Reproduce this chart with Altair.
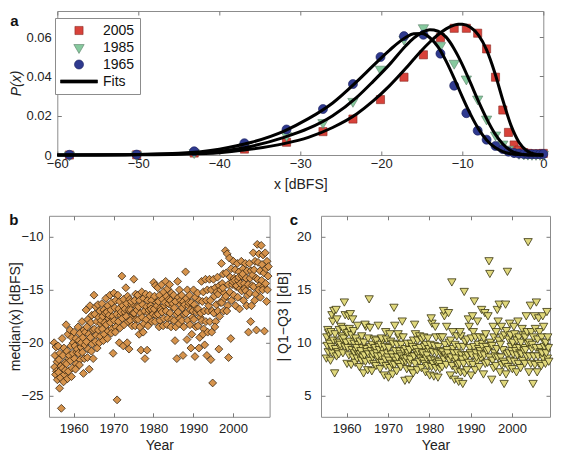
import altair as alt
import pandas as pd

FONT = "Liberation Sans"

# ---------------- Panel a : distributions of x for three years ----------------
a_bins = [-58.5, -50.2, -43.1, -36.9, -31.7, -27.2, -23.5, -20.1, -17.2, -14.8, -12.7,
          -11.0, -9.5, -8.1, -7.0, -5.9, -5.0, -4.3, -3.6, -3.0, -2.4, -1.9, -1.4, -0.9, -0.4, 0.0]
p_1965 = [0.0001, 0.0002, 0.0019, 0.0060, 0.0130, 0.0234, 0.0361, 0.0499, 0.0605, 0.0612, 0.0516,
          0.0353, 0.0213, 0.0124, 0.0078, 0.0046, 0.0030, 0.0017, 0.0010, 0.0007, 0.0005, 0.0004,
          0.0004, 0.0004, 0.0004, 0.0005]
p_1985 = [0.0000, 0.0001, 0.0012, 0.0045, 0.0099, 0.0165, 0.0273, 0.0437, 0.0590, 0.0648, 0.0557,
          0.0467, 0.0387, 0.0285, 0.0183, 0.0102, 0.0056, 0.0030, 0.0015, 0.0008, 0.0005, 0.0004,
          0.0003, 0.0003, 0.0003, 0.0004]
p_2005 = [0.0000, 0.0001, 0.0010, 0.0030, 0.0065, 0.0119, 0.0183, 0.0282, 0.0396, 0.0510, 0.0598,
          0.0645, 0.0645, 0.0620, 0.0540, 0.0396, 0.0229, 0.0115, 0.0051, 0.0025, 0.0012, 0.0008,
          0.0006, 0.0005, 0.0006, 0.0008]

fit_x = [-60, -55, -50, -45, -40, -36, -32, -29, -26, -23, -21, -19, -17, -16, -15, -14, -13,
         -12, -11, -10.5, -10, -9, -8, -7, -6, -5, -4, -3, -2, -1, 0]
fit_1965 = [0.0000, 0.0001, 0.0003, 0.0009, 0.0030, 0.0065, 0.0122, 0.0185, 0.0265, 0.0375, 0.0455,
            0.0533, 0.0598, 0.0617, 0.0618, 0.0597, 0.0550, 0.0478, 0.0390, 0.0343, 0.0296, 0.0208,
            0.0133, 0.0076, 0.0039, 0.0017, 0.0006, 0.0002, 0.0000, 0.0000, 0.0000]
fit_1985 = [0.0000, 0.0000, 0.0002, 0.0006, 0.0019, 0.0045, 0.0090, 0.0135, 0.0200, 0.0295, 0.0375,
            0.0460, 0.0555, 0.0595, 0.0623, 0.0637, 0.0630, 0.0600, 0.0540, 0.0502, 0.0460, 0.0368,
            0.0273, 0.0185, 0.0110, 0.0056, 0.0022, 0.0007, 0.0001, 0.0000, 0.0000]
fit_2005 = [0.0000, 0.0000, 0.0001, 0.0004, 0.0012, 0.0030, 0.0058, 0.0090, 0.0140, 0.0210, 0.0275,
            0.0352, 0.0440, 0.0487, 0.0533, 0.0575, 0.0612, 0.0642, 0.0661, 0.0666, 0.0665, 0.0650,
            0.0610, 0.0535, 0.0420, 0.0280, 0.0152, 0.0065, 0.0020, 0.0004, 0.0000]

legend_names = ["2005", "1985", "1965", "Fits"]
# custom symbol paths (unit box -1..1 is sqrt(size) pixels wide)
legend_shapes = [
    "M-0.22,-0.22H0.22V0.22H-0.22Z",
    "M-0.28,-0.16L0.28,-0.16L0,0.32Z",
    "M0.245,0A0.245,0.245,0,1,1,-0.245,0A0.245,0.245,0,1,1,0.245,0Z",
    "M-1,-0.085H1V0.085H-1Z",
]
legend_fill = ["#d8423a", "#86c99e", "#2f3a8f", "black"]
legend_stroke = ["#8a2a24", "#5d7d68", "#1a1f5c", "black"]

panel_letters = ["a", "b", "c"]

# ---------------- Panels b and c : per-year values ----------------
years = list(range(1955, 2009))
year_frac = [0.1, 0.55, 0.3, 0.8, 0.2, 0.65, 0.45, 0.9]

median_x = [
    [-20.0, -20.4, -21.2, -21.8, -22.3, -22.7, -23.0, -23.5],
    [-20.3, -21.0, -21.6, -22.2, -22.8, -23.3, -24.3, -26.2],
    [-19.6, -20.5, -21.2, -21.9, -22.4, -23.0, -23.7, -22.6],
    [-18.3, -19.2, -20.8, -21.5, -22.0, -22.7, -23.4, -21.2],
    [-18.8, -19.5, -20.3, -21.0, -21.7, -22.4, -23.2, -20.0],
    [-19.0, -19.6, -20.3, -20.9, -21.5, -22.0, -22.5, -20.6],
    [-18.5, -19.1, -19.8, -20.4, -21.0, -21.6, -22.1, -20.0],
    [-18.0, -18.8, -19.5, -20.2, -20.9, -21.5, -22.9, -19.0],
    [-16.9, -17.8, -18.5, -19.2, -19.9, -20.6, -21.4, -22.5],
    [-16.5, -17.4, -18.1, -18.8, -19.5, -20.1, -20.8, -21.5],
    [-15.5, -16.6, -17.3, -18.0, -18.7, -19.3, -19.9, -20.5],
    [-16.4, -17.0, -17.6, -18.2, -18.8, -19.4, -20.0, -17.9],
    [-16.3, -16.9, -17.5, -18.1, -18.7, -19.2, -19.8, -17.2],
    [-15.8, -16.5, -17.1, -17.7, -18.3, -18.9, -19.6, -17.4],
    [-15.5, -16.2, -16.9, -17.5, -18.1, -18.7, -19.1, -21.0],
    [-15.3, -16.0, -16.7, -17.3, -17.9, -18.5, -19.0, -25.4],
    [-15.5, -16.1, -16.8, -17.4, -18.0, -18.6, -20.0, -17.1],
    [-13.7, -15.9, -16.5, -17.1, -17.7, -18.3, -20.3, -16.8],
    [-14.8, -15.6, -16.3, -16.9, -17.5, -18.0, -20.0, -20.6],
    [-15.9, -16.4, -16.9, -17.4, -17.9, -18.4, -16.1, -17.2],
    [-14.0, -15.4, -16.0, -16.6, -17.2, -17.8, -18.4, -16.9],
    [-15.5, -16.0, -16.6, -17.2, -17.8, -18.5, -19.2, -20.7],
    [-15.2, -15.8, -16.4, -17.0, -17.6, -18.2, -19.0, -21.5],
    [-15.4, -16.0, -16.6, -17.2, -17.8, -18.4, -20.7, -16.9],
    [-15.5, -16.0, -16.5, -17.0, -17.5, -18.0, -16.8, -17.3],
    [-14.3, -14.6, -15.6, -16.2, -16.8, -17.4, -18.0, -16.5],
    [-14.8, -15.5, -16.1, -16.7, -17.3, -17.9, -18.5, -16.9],
    [-14.5, -15.2, -15.9, -16.5, -17.1, -17.7, -18.4, -16.2],
    [-14.2, -14.9, -15.6, -16.3, -17.0, -17.7, -18.3, -15.9],
    [-14.5, -15.3, -16.0, -16.6, -17.2, -17.8, -18.5, -16.3],
    [-15.5, -16.1, -16.7, -17.3, -17.9, -18.5, -19.8, -21.5],
    [-14.2, -15.0, -15.7, -16.4, -17.1, -17.7, -18.2, -16.0],
    [-15.5, -16.1, -16.7, -17.3, -17.9, -18.5, -21.2, -16.4],
    [-13.3, -15.0, -15.8, -16.5, -17.2, -17.9, -19.7, -16.2],
    [-15.5, -16.2, -16.9, -17.6, -18.3, -19.2, -20.5, -17.0],
    [-15.0, -15.7, -16.4, -17.1, -17.8, -18.5, -21.3, -16.8],
    [-15.3, -16.0, -16.8, -17.6, -18.4, -19.5, -20.5, -17.2],
    [-14.2, -15.2, -16.1, -17.0, -17.9, -18.7, -19.2, -20.2],
    [-14.0, -15.0, -16.0, -17.0, -18.0, -19.0, -21.2, -16.5],
    [-14.0, -15.0, -16.0, -17.0, -18.0, -19.0, -21.6, -23.8],
    [-14.0, -14.8, -15.6, -16.4, -17.2, -18.0, -18.5, -15.2],
    [-13.8, -14.6, -15.4, -16.2, -17.0, -17.5, -20.6, -15.0],
    [-12.5, -13.5, -14.4, -15.3, -16.2, -17.0, -14.8, -15.8],
    [-11.3, -11.6, -13.4, -14.5, -15.6, -16.5, -17.0, -21.4],
    [-12.0, -13.0, -13.8, -14.5, -15.2, -16.0, -19.6, -14.2],
    [-12.3, -13.1, -13.9, -14.7, -15.5, -16.5, -14.1, -14.6],
    [-12.5, -13.3, -14.1, -14.9, -15.7, -16.8, -13.8, -14.4],
    [-12.3, -13.0, -13.7, -14.4, -15.1, -16.0, -13.5, -14.9],
    [-12.5, -13.2, -13.9, -14.5, -15.1, -15.5, -16.5, -19.0],
    [-12.5, -13.2, -13.9, -14.6, -15.3, -16.5, -18.0, -13.6],
    [-11.5, -12.3, -13.1, -13.9, -14.7, -15.4, -16.0, -18.8],
    [-10.7, -11.6, -12.4, -13.2, -14.0, -14.6, -15.0, -15.7],
    [-10.8, -11.7, -12.6, -13.4, -14.1, -14.7, -15.0, -18.9],
    [-11.5, -12.3, -13.0, -13.7, -14.4, -15.0, -16.1, -12.8],
]

q_range = [
    [8.5, 9.1, 9.7, 10.1, 10.5, 10.9, 11.2, 9.9],
    [8.3, 9.0, 9.6, 10.2, 11.0, 12.0, 12.6, 13.0],
    [7.1, 8.7, 9.4, 10.0, 10.8, 12.2, 13.1, 9.1],
    [8.9, 9.5, 10.0, 10.6, 11.2, 11.5, 9.8, 10.3],
    [9.0, 9.6, 10.4, 11.0, 11.3, 12.6, 13.8, 10.0],
    [8.0, 8.8, 9.5, 10.1, 10.9, 11.3, 12.5, 12.7],
    [7.9, 8.6, 9.3, 9.9, 10.7, 11.1, 12.2, 9.0],
    [8.1, 8.5, 9.2, 9.8, 10.4, 11.6, 9.5, 8.9],
    [7.7, 8.3, 8.9, 9.5, 10.1, 10.6, 9.2, 8.6],
    [7.1, 8.2, 8.8, 9.4, 10.0, 11.5, 11.7, 9.1],
    [7.4, 8.3, 8.9, 9.6, 10.4, 11.4, 14.1, 9.2],
    [7.3, 8.0, 8.6, 9.2, 9.8, 10.3, 8.9, 9.5],
    [7.8, 8.4, 9.0, 9.6, 10.2, 11.6, 8.7, 9.3],
    [7.5, 8.1, 8.7, 9.3, 9.8, 10.2, 10.4, 8.9],
    [6.9, 7.8, 8.4, 9.0, 9.6, 10.3, 11.0, 8.6],
    [6.7, 7.6, 8.3, 8.9, 9.5, 10.1, 10.8, 8.0],
    [7.0, 7.9, 8.6, 9.2, 9.9, 11.6, 13.3, 8.3],
    [7.3, 8.0, 8.6, 9.2, 9.8, 10.5, 10.8, 8.9],
    [7.7, 8.2, 8.7, 9.2, 9.8, 10.5, 12.0, 8.5],
    [6.4, 7.5, 8.2, 8.8, 9.4, 9.9, 8.5, 9.0],
    [6.5, 7.4, 8.1, 8.7, 9.3, 9.9, 8.4, 9.6],
    [7.1, 8.0, 8.7, 9.4, 10.2, 10.8, 11.7, 9.0],
    [7.4, 8.2, 8.8, 9.5, 10.2, 10.6, 9.1, 8.5],
    [7.6, 8.3, 8.9, 9.6, 10.3, 10.5, 9.0, 8.0],
    [7.2, 7.8, 8.5, 9.1, 9.8, 10.4, 8.8, 9.4],
    [6.9, 7.7, 8.4, 9.1, 9.8, 11.8, 12.3, 8.0],
    [6.8, 7.6, 8.3, 9.0, 9.7, 10.5, 11.5, 8.1],
    [6.7, 7.5, 8.2, 8.9, 9.6, 10.5, 8.0, 9.2],
    [7.7, 8.4, 9.1, 9.8, 10.5, 12.5, 13.0, 8.8],
    [7.9, 8.6, 9.3, 10.0, 11.5, 12.8, 9.0, 8.3],
    [6.9, 7.8, 8.6, 9.4, 10.2, 11.0, 15.7, 9.0],
    [6.5, 7.4, 8.2, 9.0, 9.8, 10.6, 8.5, 7.9],
    [6.3, 7.2, 8.0, 8.8, 9.6, 10.6, 11.0, 8.4],
    [6.1, 7.1, 8.0, 8.8, 9.6, 10.1, 14.8, 8.5],
    [7.4, 8.1, 8.8, 9.5, 10.3, 11.5, 12.2, 9.0],
    [6.9, 7.9, 8.8, 9.6, 10.4, 11.0, 12.5, 13.9],
    [7.4, 8.2, 9.0, 9.8, 10.5, 12.0, 8.6, 9.4],
    [7.7, 8.5, 9.2, 9.9, 10.5, 13.1, 8.9, 9.6],
    [7.0, 8.0, 8.8, 9.6, 10.4, 10.8, 12.8, 9.2],
    [8.1, 8.6, 9.3, 10.0, 12.5, 16.5, 17.7, 9.7],
    [6.5, 7.6, 8.3, 9.0, 9.7, 10.5, 11.5, 8.7],
    [7.8, 8.6, 9.4, 10.2, 11.0, 12.0, 13.1, 13.6],
    [7.2, 7.9, 8.6, 9.3, 9.8, 10.5, 11.5, 8.2],
    [6.1, 7.0, 8.0, 8.9, 10.7, 11.1, 13.6, 16.7],
    [7.7, 8.3, 9.0, 9.6, 10.3, 10.7, 11.8, 9.2],
    [7.5, 8.2, 8.9, 9.5, 10.0, 10.8, 11.5, 9.2],
    [7.2, 8.0, 8.8, 9.5, 10.2, 10.5, 12.0, 9.0],
    [7.6, 8.3, 8.9, 9.5, 10.0, 10.7, 11.3, 9.2],
    [8.0, 8.7, 9.3, 9.9, 10.5, 11.0, 12.5, 19.5],
    [7.2, 8.0, 8.7, 9.4, 10.0, 11.0, 13.5, 9.8],
    [6.1, 7.9, 8.7, 9.5, 10.5, 11.3, 12.5, 13.8],
    [7.2, 8.0, 8.7, 9.5, 10.3, 11.0, 12.3, 9.1],
    [7.8, 8.5, 9.0, 9.6, 10.5, 11.5, 12.5, 10.0],
    [8.0, 8.5, 9.0, 9.5, 10.0, 10.5, 12.9, 8.2],
]

# ---------------- tables ----------------
pts_a = pd.DataFrame({
    "x": a_bins * 3,
    "p": p_2005 + p_1985 + p_1965,
    "series": ["2005"] * len(a_bins) + ["1985"] * len(a_bins) + ["1965"] * len(a_bins),
})
fits_a = pd.DataFrame({
    "x": fit_x * 3,
    "p": fit_2005 + fit_1985 + fit_1965,
    "curve": ["2005"] * len(fit_x) + ["1985"] * len(fit_x) + ["1965"] * len(fit_x),
})

rows_b, rows_c = [], []
for yr, vals_b, vals_c in zip(years, median_x, q_range):
    for f, vb, vc in zip(year_frac, vals_b, vals_c):
        rows_b.append({"year": yr + f, "v": vb})
        rows_c.append({"year": yr + f, "v": vc})
df_b = pd.DataFrame(rows_b)
df_c = pd.DataFrame(rows_c)

TICK = "#7a7a7a"
SYM = 1370  # symbol size so that the legend line is ~37 px long


def letter_layer(t, dx, baseline_y):
    """Bold panel letter placed relative to the panel's plot area."""
    return alt.Chart(pd.DataFrame({"t": [t]})).mark_text(
        align="left", baseline="alphabetic", fontSize=15, fontWeight="bold", color="#111", font=FONT
    ).encode(text="t:N", x=alt.value(dx), y=alt.value(baseline_y))


# ---------------- panel a ----------------
xa = alt.Scale(domain=[-60, 0], nice=False, zero=False)
ya = alt.Scale(domain=[0, 0.0733], nice=False, zero=False)
xa_ticks = [-60, -50, -40, -30, -20, -10, 0]
ya_ticks = [0, 0.02, 0.04, 0.06]

leg = alt.Legend(title=None, orient="none", legendX=6, legendY=7, fillColor="white",
                 strokeColor="#8c8c8c", padding=5, labelFontSize=14, labelOffset=5,
                 clipHeight=15, rowPadding=2, labelColor="#111", symbolSize=SYM,
                 symbolStrokeWidth=0.6)

points_a = alt.Chart(pts_a).mark_point(filled=True, opacity=1, size=SYM, strokeWidth=0.6).encode(
    x=alt.X("x:Q", scale=xa, axis=None),
    y=alt.Y("p:Q", scale=ya, axis=None),
    shape=alt.Shape("series:N", scale=alt.Scale(domain=legend_names, range=legend_shapes), legend=leg),
    fill=alt.Fill("series:N", scale=alt.Scale(domain=legend_names, range=legend_fill), legend=leg),
    stroke=alt.Stroke("series:N", scale=alt.Scale(domain=legend_names, range=legend_stroke), legend=leg),
)

lines_a = alt.Chart(fits_a).mark_line(color="black", strokeWidth=3, interpolate="monotone").encode(
    x=alt.X("x:Q", scale=xa, axis=alt.Axis(values=xa_ticks, format="d", title="x  [dBFS]",
                                           labelPadding=2.5, titlePadding=6.5)),
    y=alt.Y("p:Q", scale=ya, axis=alt.Axis(values=ya_ticks, format=".2~f", title="P(x)",
                                           titleFontStyle="italic", labelPadding=6, titlePadding=2)),
    detail="curve:N",
)

mirror_a = alt.Chart(pts_a.head(1)).mark_point(opacity=0).encode(
    x=alt.X("x:Q", scale=xa, axis=alt.Axis(orient="top", values=xa_ticks, labels=False, title=None)),
    y=alt.Y("p:Q", scale=ya, axis=alt.Axis(orient="right", values=ya_ticks, labels=False, title=None)),
)

panel_a = alt.layer(points_a, lines_a, mirror_a, letter_layer(panel_letters[0], -47, 15)).resolve_axis(
    x="independent", y="independent"
).properties(width=486, height=144)

# ---------------- panel b ----------------
xyears = alt.Scale(domain=[1953.8, 2009.2], nice=False, zero=False)
year_ticks = [1960, 1970, 1980, 1990, 2000]
yb = alt.Scale(domain=[-27, -8], nice=False, zero=False)
yb_ticks = [-25, -20, -15, -10]

b_main = alt.Chart(df_b).mark_point(shape="diamond", filled=True, fill="#d6934c", stroke="#3a2712",
                                    strokeWidth=0.8, size=62, opacity=1).encode(
    x=alt.X("year:Q", scale=xyears, axis=alt.Axis(values=year_ticks, format="d", title="Year",
                                                  labelPadding=6, titlePadding=2.5)),
    y=alt.Y("v:Q", scale=yb, axis=alt.Axis(values=yb_ticks, format="d", title="median(x)  [dBFS]",
                                           labelPadding=6, titlePadding=-2)),
)
b_mirror = alt.Chart(df_b.head(1)).mark_point(opacity=0).encode(
    x=alt.X("year:Q", scale=xyears, axis=alt.Axis(orient="top", values=year_ticks, labels=False, title=None)),
    y=alt.Y("v:Q", scale=yb, axis=alt.Axis(orient="right", values=yb_ticks, labels=False, title=None)),
)
panel_b = alt.layer(b_main, b_mirror, letter_layer(panel_letters[1], -39.7, 9)).resolve_axis(
    x="independent", y="independent").properties(width=220.6, height=201)

# ---------------- panel c ----------------
yc = alt.Scale(domain=[3, 22], nice=False, zero=False)
yc_ticks = [5, 10, 15, 20]
c_main = alt.Chart(df_c).mark_point(shape="triangle-down", filled=True, fill="#e0d87c", stroke="#37330f",
                                    strokeWidth=0.8, size=70, opacity=1).encode(
    x=alt.X("year:Q", scale=xyears, axis=alt.Axis(values=year_ticks, format="d", title="Year",
                                                  labelPadding=6, titlePadding=2.5)),
    y=alt.Y("v:Q", scale=yc, axis=alt.Axis(values=yc_ticks, format="d", title="| Q1\u2212Q3 |  [dB]",
                                           labelPadding=10, titlePadding=6)),
)
c_mirror = alt.Chart(df_c.head(1)).mark_point(opacity=0).encode(
    x=alt.X("year:Q", scale=xyears, axis=alt.Axis(orient="top", values=year_ticks, labels=False, title=None)),
    y=alt.Y("v:Q", scale=yc, axis=alt.Axis(orient="right", values=yc_ticks, labels=False, title=None)),
)
panel_c = alt.layer(c_main, c_mirror, letter_layer(panel_letters[2], -31.3, 9)).resolve_axis(
    x="independent", y="independent").properties(width=229, height=201)

# ---------------- layout ----------------
spacer = alt.Chart(pd.DataFrame({"v": [0]})).mark_point(opacity=0).encode(
    x=alt.X("v:Q", axis=None), y=alt.Y("v:Q", axis=None)
).properties(width=1, height=1, view=alt.ViewBackground(stroke=None))

row1 = alt.hconcat(spacer, panel_a, spacing=7.3, bounds="flush")
row2 = alt.hconcat(panel_b, panel_c, spacing=51, bounds="flush")

chart = alt.vconcat(row1, row2, spacing=19.8).properties(padding=0).configure(
    font=FONT
).configure_view(
    stroke="#8c8c8c", strokeWidth=1
).configure_axis(
    labelFont=FONT, titleFont=FONT, labelFontSize=13, titleFontSize=14, titleFontWeight="normal",
    labelColor="#222", titleColor="#222", tickColor=TICK, tickSize=4, offset=-4, domain=False,
    grid=False, labelFlush=False,
).configure_legend(
    labelFont=FONT,
)

chart.save("out.html", embed_options={"renderer": "svg", "actions": False})
